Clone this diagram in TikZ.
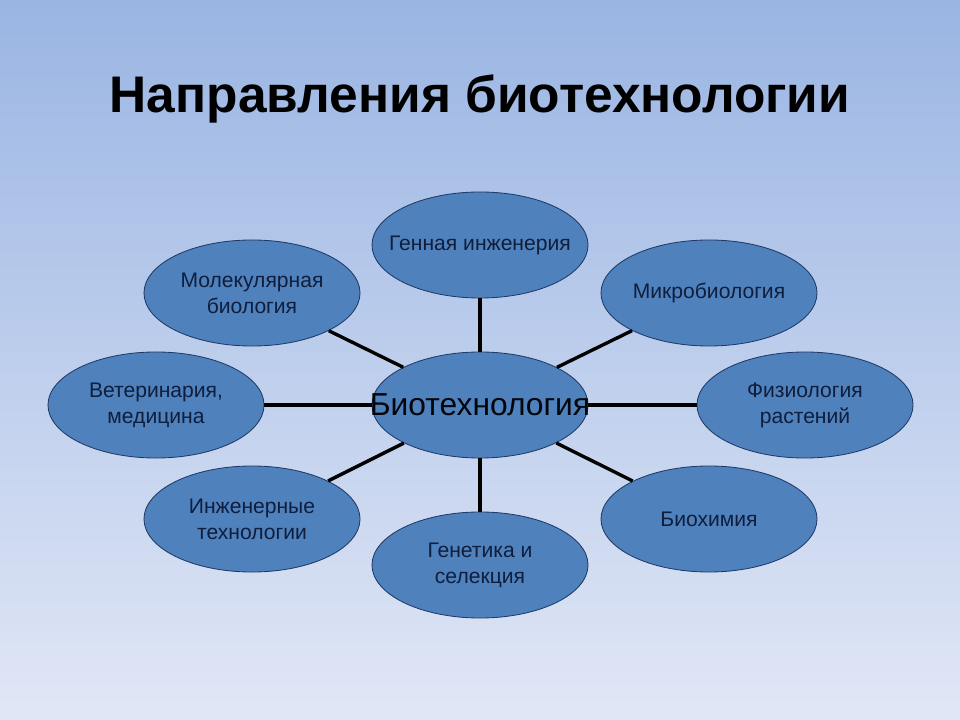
\documentclass[tikz,border=0pt]{standalone}
\usepackage{fontspec}
\setmainfont{Liberation Sans}
\usepackage{tikz}
\usetikzlibrary{shapes.geometric}

\definecolor{skytop}{HTML}{9AB5E3}
\definecolor{skybottom}{HTML}{E1E7F6}
\definecolor{ovalfill}{HTML}{4F81BD}
\definecolor{ovaldraw}{HTML}{1F3A66}
\definecolor{ovaltext}{HTML}{0F1E3C}

\begin{document}
\begin{tikzpicture}[x=0.025cm, y=-0.025cm,
  oval/.style={ellipse, fill=ovalfill, draw=ovaldraw, line width=0.6pt,
    minimum width=5.4cm, minimum height=2.65cm, inner sep=0pt,
    text=ovaltext, align=center, font=\fontsize{15}{18.5}\selectfont},
  spoke/.style={line width=2.4pt, black}]

	\shade[top color=skytop, bottom color=skybottom] (0,0) rectangle (960,720);
	\useasboundingbox (0,0) rectangle (960,720);

	\coordinate (C) at (480,405);

	\node (title) at (480,99) {\fontsize{36.6}{40}\selectfont\bfseries Направления биотехнологии};

	\node[oval, font=\fontsize{22.6}{26}\selectfont, text=black!85!ovaltext] (bio) at (C) {\clap{Биотехнология}};
	\node[oval] (gen)   at (480,245) {\clap{Генная инженерия}};
	\node[oval] (micro) at (709,293) {Микробиология};
	\node[oval] (phys)  at (805,405) {Физиология\\растений};
	\node[oval] (chem)  at (709,519) {Биохимия};
	\node[oval] (sel)   at (480,565) {Генетика и\\селекция};
	\node[oval] (eng)   at (252,519) {Инженерные\\технологии};
	\node[oval] (vet)   at (156,405) {Ветеринария,\\медицина};
	\node[oval] (mol)   at (252,293) {Молекулярная\\биология};

	\foreach \n in {gen, micro, phys, chem, sel, eng, vet, mol}
		\draw[spoke] (bio) -- (\n);

\end{tikzpicture}
\end{document}
